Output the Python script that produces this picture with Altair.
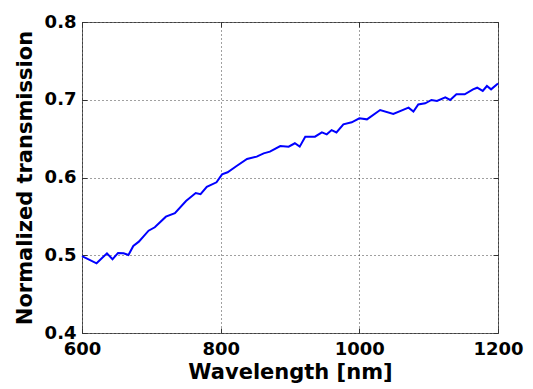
import altair as alt
import pandas as pd

wavelength = [600, 621, 636, 644, 652, 660, 667, 674, 682, 696, 705, 721, 734, 750,
              764, 771, 780, 794, 802, 810, 823, 838, 852, 862, 871, 886, 898, 907,
              914, 922, 936, 946, 953, 960, 967, 977, 989, 1000, 1011, 1030, 1049,
              1071, 1078, 1085, 1095, 1104, 1112, 1124, 1131, 1140, 1152, 1164, 1170,
              1178, 1184, 1190, 1200]
transmission = [0.499, 0.4896, 0.5025, 0.4948, 0.503, 0.5025, 0.5003, 0.512, 0.5175,
                0.5316, 0.536, 0.5496, 0.554, 0.5698, 0.580, 0.5785, 0.588, 0.5938,
                0.604, 0.6067, 0.6148, 0.6238, 0.6268, 0.631, 0.6332, 0.6405, 0.6397,
                0.644, 0.6397, 0.6525, 0.6525, 0.658, 0.6555, 0.661, 0.658, 0.6684,
                0.671, 0.6761, 0.6748, 0.6868, 0.6817, 0.6898, 0.6847, 0.694, 0.6954,
                0.6997, 0.6984, 0.7032, 0.6997, 0.707, 0.707, 0.7134, 0.7155, 0.7113,
                0.7177, 0.7134, 0.721]
x_ticks = [600, 800, 1000, 1200]
y_ticks = [0.4, 0.5, 0.6, 0.7, 0.8]

df = pd.DataFrame({"wl": wavelength, "t": transmission})

xscale = alt.Scale(domain=[600, 1200], nice=False, zero=False)
yscale = alt.Scale(domain=[0.4, 0.8], nice=False, zero=False)

main = alt.Chart(df).mark_line(color="#0000FF", strokeWidth=2).encode(
    x=alt.X("wl:Q", scale=xscale, title="Wavelength [nm]",
            axis=alt.Axis(values=x_ticks, orient="bottom", format="d", grid=True,
                          ticks=False, domain=False, labelPadding=7, titlePadding=3)),
    y=alt.Y("t:Q", scale=yscale, title="Normalized transmission",
            axis=alt.Axis(values=y_ticks, orient="left", format=".1f", grid=True,
                          ticks=False, domain=False, labelPadding=6, titlePadding=9)),
)

def tick_layer(xorient, yorient):
    return alt.Chart(df).mark_line(opacity=0).encode(
        x=alt.X("wl:Q", scale=xscale, title="",
                axis=alt.Axis(values=x_ticks, orient=xorient, offset=-5, tickSize=5,
                              tickColor="#333333", labels=False, domain=False, grid=False)),
        y=alt.Y("t:Q", scale=yscale, title="",
                axis=alt.Axis(values=y_ticks, orient=yorient, offset=-5, tickSize=5,
                              tickColor="#333333", labels=False, domain=False, grid=False)),
    )

chart = alt.layer(
    main, tick_layer("bottom", "left"), tick_layer("top", "right")
).resolve_scale(x="independent", y="independent").resolve_axis(
    x="independent", y="independent"
).properties(
    width=416, height=311,
    autosize=alt.AutoSizeParams(type="none"),
    padding={"left": 82, "top": 22, "right": 35, "bottom": 56},
    background="white",
).configure_view(stroke="#666666", strokeWidth=1).configure_axis(
    labelFont="DejaVu Sans", labelFontSize=18, labelFontWeight="bold",
    labelColor="#000000", labelFlush=False, labelOverlap=False,
    titleFont="DejaVu Sans", titleFontSize=21, titleFontWeight="bold",
    titleColor="#000000", gridDash=[1, 3], gridColor="#000000", gridOpacity=0.75,
)

chart.save("out.html", embed_options={"renderer": "svg", "actions": False})
